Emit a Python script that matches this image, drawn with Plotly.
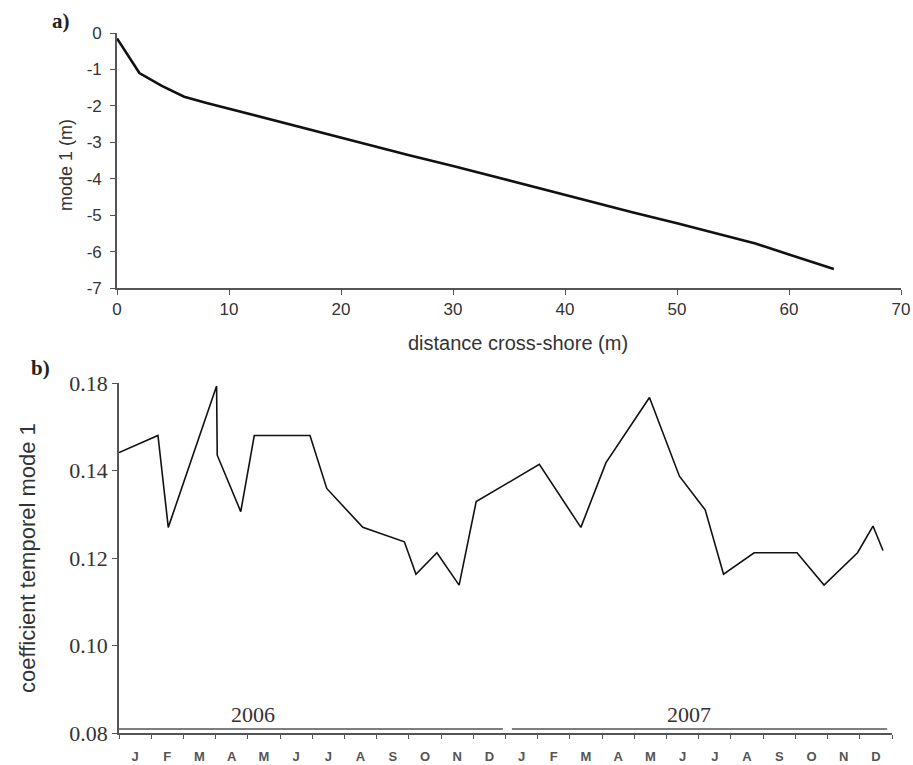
import plotly.graph_objects as go

# ---- panel a: spatial EOF mode 1 along the cross-shore profile ----
distance_m = [0, 2, 4, 6, 8, 10, 14, 20, 26, 30, 36, 40, 46, 50, 54, 57, 60, 62, 64]
mode1_m = [-0.15, -1.10, -1.45, -1.75, -1.92, -2.08, -2.40, -2.88, -3.35, -3.65, -4.13,
           -4.45, -4.92, -5.22, -5.54, -5.78, -6.08, -6.28, -6.48]
distance_ticks = [0, 10, 20, 30, 40, 50, 60, 70]
mode1_ticks = [-7, -6, -5, -4, -3, -2, -1, 0]

# ---- panel b: temporal coefficient of mode 1 (months since Jan 2006) ----
months = [0.00, 1.21, 1.53, 3.03, 3.05, 3.78, 4.20, 5.93, 6.45, 7.57, 8.86, 9.22, 9.87,
          10.56, 11.09, 13.05, 14.34, 15.12, 16.47, 17.40, 18.20, 18.77, 19.72, 21.05,
          21.89, 22.93, 23.41, 23.72]
coef = [0.1441, 0.1480, 0.1270, 0.1593, 0.1435, 0.1306, 0.1480, 0.1480, 0.1359, 0.1270,
        0.1237, 0.1163, 0.1212, 0.1138, 0.1329, 0.1414, 0.1270, 0.1418, 0.1567, 0.1387,
        0.1310, 0.1163, 0.1212, 0.1212, 0.1138, 0.1212, 0.1273, 0.1217]

coef_tickvals = [0.08, 0.10, 0.12, 0.14, 0.16]
coef_ticktext = ["0.08", "0.10", "0.12", "0.14", "0.18"]
month_letters = ["J", "F", "M", "A", "M", "J", "J", "A", "S", "O", "N", "D"] * 2
years = ["2006", "2007"]

W, H = 913, 765


def fx(p):
    return p / W


def fy(p):
    return 1 - p / H


SANS = "Liberation Sans, Arial, sans-serif"
SERIF = "Liberation Serif, Times New Roman, serif"
AXIS_GREY = "#555555"

fig = go.Figure()

fig.add_trace(go.Scatter(x=distance_m, y=mode1_m, mode="lines",
                         line=dict(color="#111111", width=2.6),
                         xaxis="x", yaxis="y", showlegend=False))

fig.add_trace(go.Scatter(x=months, y=coef, mode="lines",
                         line=dict(color="#111111", width=1.6),
                         xaxis="x2", yaxis="y2", showlegend=False))

axis_a = dict(showgrid=False, zeroline=False, showline=True, linecolor=AXIS_GREY,
              linewidth=1.6, ticks="outside", ticklen=5, tickwidth=1.4, tickcolor=AXIS_GREY,
              automargin=False,
              tickfont=dict(family=SANS, size=17, color="#333333"))

fig.update_layout(
    width=W, height=H,
    margin=dict(l=0, r=0, t=0, b=0),
    paper_bgcolor="white", plot_bgcolor="white",
    xaxis=dict(axis_a, domain=[fx(117), fx(901)], range=[0, 70],
               tickvals=distance_ticks, ticktext=[str(v) for v in distance_ticks], anchor="y"),
    yaxis=dict(axis_a, domain=[fy(288), fy(33)], range=[-7, 0], ticklabelstandoff=5,
               tickvals=mode1_ticks, ticktext=[str(v) for v in mode1_ticks], anchor="x"),
    xaxis2=dict(domain=[fx(119), fx(892)], range=[0, 24], anchor="y2", automargin=False,
                showgrid=False, zeroline=False, showline=True, linecolor=AXIS_GREY, linewidth=1.6,
                tickvals=[i + 0.5 for i in range(24)], ticktext=month_letters,
                ticks="", ticklabelstandoff=11,
                tickfont=dict(family=SANS, size=13, color="#555555", weight="bold"),
                minor=dict(tickvals=list(range(25)), ticks="outside", ticklen=4,
                           tickwidth=1.3, tickcolor=AXIS_GREY)),
    yaxis2=dict(domain=[fy(733), fy(383)], range=[0.08, 0.16], anchor="x2", automargin=False,
                showgrid=False, zeroline=False, showline=True, linecolor=AXIS_GREY, linewidth=1.6,
                tickvals=coef_tickvals, ticktext=coef_ticktext,
                ticks="outside", ticklen=5, tickwidth=1.3, tickcolor=AXIS_GREY,
                tickfont=dict(family=SERIF, size=22, color="#333333")),
)

# year bars above the month axis
year_spans = [(0.0, 11.92), (12.2, 23.85)]
for (x0, x1) in year_spans:
    fig.add_shape(type="line", xref="x2", yref="paper", x0=x0, x1=x1, y0=fy(729), y1=fy(729),
                  line=dict(color=AXIS_GREY, width=1.4))

annotations = [
    dict(text="a)", x=fx(61), y=fy(21), font=dict(family=SERIF, size=21, color="#222222",
                                                  weight="bold")),
    dict(text="b)", x=fx(40), y=fy(368), font=dict(family=SERIF, size=21, color="#222222",
                                                   weight="bold")),
    dict(text="mode 1 (m)", x=fx(66), y=fy(165), textangle=-90,
         font=dict(family=SANS, size=18, color="#333333")),
    dict(text="distance cross-shore (m)", x=fx(518), y=fy(343),
         font=dict(family=SANS, size=20, color="#333333")),
    dict(text="coefficient temporel mode 1", x=fx(27), y=fy(558), textangle=-90,
         font=dict(family=SANS, size=22, color="#333333")),
    dict(text=years[0], x=fx(253), y=fy(714), font=dict(family=SERIF, size=22, color="#333333")),
    dict(text=years[1], x=fx(689), y=fy(714), font=dict(family=SERIF, size=22, color="#333333")),
]
for a in annotations:
    fig.add_annotation(xref="paper", yref="paper", showarrow=False,
                       xanchor="center", yanchor="middle", **a)

fig.write_html("out.html")
